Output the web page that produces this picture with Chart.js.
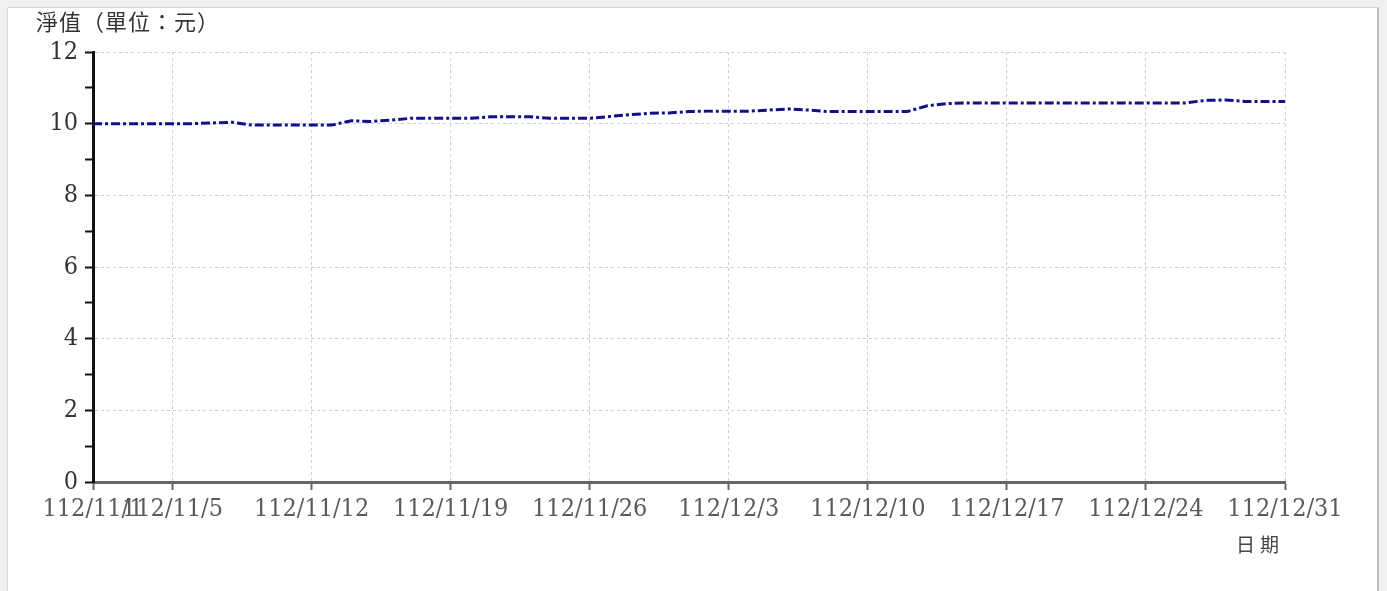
<!DOCTYPE html>
<html>
<head>
<meta charset="utf-8">
<script src="https://cdn.jsdelivr.net/npm/chart.js@4/dist/chart.umd.min.js"></script>
<style>
  html, body { margin: 0; padding: 0; background: #f0f0f0; width: 1387px; height: 591px; overflow: hidden; }
  #panel { position: absolute; left: 7px; top: 7px; width: 1369px; height: 600px; background: #ffffff;
           border-top: 1px solid #d8d8d8; border-left: 1px solid #d8d8d8; border-right: 2px solid #bdbdbd; }
  #c { position: absolute; left: 0; top: 0; }
  .txt { position: absolute; font-family: "Noto Sans CJK TC", sans-serif; color: #333; white-space: nowrap; }
  #ytitle { left: 36px; top: 5px; font-size: 22px; line-height: 30px; letter-spacing: 1px; }
  #xtitle { left: 1236px; top: 531px; font-size: 19px; line-height: 26px; letter-spacing: 5px; color: #444; }
</style>
</head>
<body>
<div id="panel"></div>
<canvas id="c" width="1387" height="591"></canvas>
<div class="txt" id="ytitle">淨值（單位：元）</div>
<div class="txt" id="xtitle">日期</div>
<script>
// Day index 0 = 112/11/1 ... 60 = 112/12/31
const tickDays = [0, 4, 11, 18, 25, 32, 39, 46, 53, 60];
const tickLabels = ['112/11/1', '112/11/5', '112/11/12', '112/11/19', '112/11/26',
                    '112/12/3', '112/12/10', '112/12/17', '112/12/24', '112/12/31'];
const navValues = [
  10.00, 10.00, 10.00, 10.00, 10.00, 10.00, 10.02, 10.04,
  9.96, 9.96, 9.96, 9.96, 9.96,
  10.08, 10.06, 10.10,
  10.15, 10.15, 10.15, 10.15,
  10.19, 10.19, 10.19,
  10.15, 10.15, 10.15,
  10.20, 10.25, 10.29, 10.30, 10.34,
  10.35, 10.35, 10.35,
  10.38, 10.41, 10.38,
  10.34, 10.34, 10.34, 10.34, 10.34,
  10.50, 10.56,
  10.58, 10.58, 10.58, 10.58, 10.58, 10.58, 10.58, 10.58, 10.58, 10.58, 10.58, 10.58,
  10.65, 10.66,
  10.62, 10.62, 10.62
];
const yMin = 0, yMax = 12;

const points = navValues.map((v, i) => ({ x: i, y: v }));
const labelFont = "'DejaVu Serif Condensed', 'DejaVu Serif', serif";

new Chart(document.getElementById('c'), {
  type: 'line',
  data: {
    datasets: [{
      data: points,
      borderColor: '#10108a',
      borderWidth: 3,
      borderDash: [9, 3, 3, 3],
      pointRadius: 0,
      tension: 0,
      fill: false
    }]
  },
  options: {
    responsive: false,
    animation: false,
    layout: { padding: { left: 0, right: 102, top: 52, bottom: 0 } },
    plugins: { legend: { display: false }, tooltip: { enabled: false } },
    scales: {
      x: {
        type: 'linear',
        min: 0, max: tickDays[tickDays.length - 1],
        afterBuildTicks: (scale) => { scale.ticks = tickDays.map(v => ({ value: v })); },
        afterFit: (scale) => { scale.height = 109; },
        ticks: {
          autoSkip: false, maxRotation: 0, minRotation: 0,
          padding: 4,
          color: '#5a5a5a',
          font: { family: labelFont, size: 25 },
          callback: (v) => { const i = tickDays.indexOf(v); return i >= 0 ? tickLabels[i] : ''; }
        },
        grid: {
          color: '#cfcfcf', lineWidth: 1,
          tickColor: '#666', tickLength: 8, tickWidth: 2, tickBorderDash: []
        },
        border: { color: '#666', width: 3, dash: [3, 3] }
      },
      y: {
        min: yMin, max: yMax,
        afterFit: (scale) => { scale.width = 93; },
        ticks: {
          stepSize: 1,
          padding: 7,
          color: '#333',
          font: { family: labelFont, size: 25 },
          callback: (v) => (v % 2 === 0 ? String(v) : '')
        },
        grid: {
          color: (ctx) => (ctx.tick && ctx.tick.value % 2 === 0 ? '#cfcfcf' : 'rgba(0,0,0,0)'),
          lineWidth: 1,
          tickColor: '#111', tickLength: 8, tickWidth: 2, tickBorderDash: []
        },
        border: { color: '#111', width: 3, dash: [3, 3] }
      }
    }
  }
});
</script>
</body>
</html>
